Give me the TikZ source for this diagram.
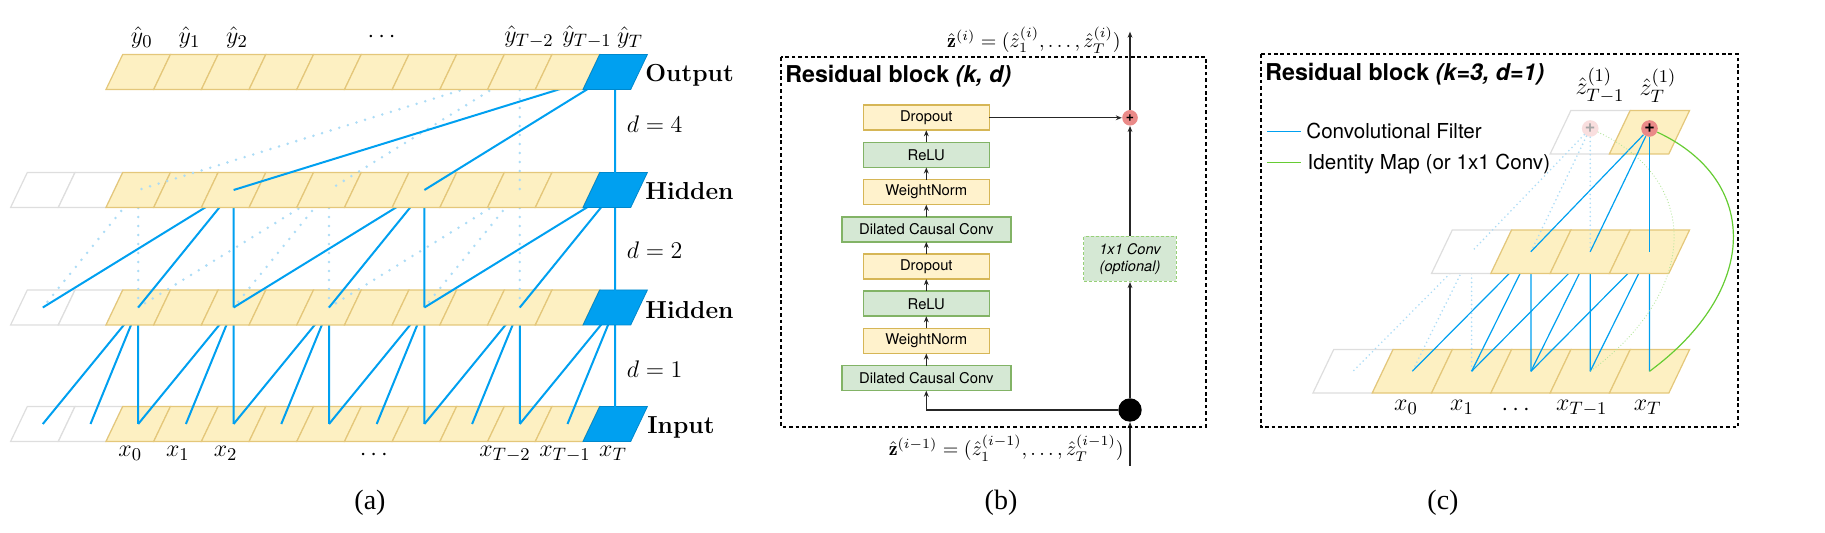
\documentclass[tikz,border=0pt]{standalone}
\usepackage{fontspec}
\setsansfont{TeX Gyre Heros}
\newfontfamily\capfont{Liberation Serif}
\usetikzlibrary{
  positioning,
  calc,
  arrows.meta}
\tikzset{
  cell/.pic = {
    \path [pic actions] (-32.2, 17.5) -- (15.5, 17.5) -- (32.2, -17.5)
      -- (-15.5, -17.5) -- cycle;
  }
}
\definecolor{cellcolor}{RGB}{253,240,194}
\definecolor{celledge}{RGB}{228,199,122}
\definecolor{padedge}{RGB}{222,222,222}
\definecolor{tcnblue}{RGB}{0,160,240}
\definecolor{dotblue}{RGB}{172,220,246}
\definecolor{normcolor}{RGB}{255,242,204}
\definecolor{normedge}{RGB}{214,182,86}
\definecolor{convcolor}{RGB}{213,232,212}
\definecolor{convedge}{RGB}{130,179,102}
\definecolor{dashgreen}{RGB}{151,208,119}
\definecolor{addcolor}{RGB}{234,138,136}
\definecolor{identgreen}{RGB}{102,204,51}
\tikzset{
  %% seqcell : a time step that holds data
  seqcell/.style={
    fill=cellcolor,
    draw=celledge,
    line width=0.6pt
  },
  %% padcell : zero padding in front of the sequence
  padcell/.style={
    fill=white,
    draw=padedge,
    line width=0.6pt
  },
  %% lastcell : the last time step T
  lastcell/.style={
    fill=tcnblue,
    draw=tcnblue!85!black,
    line width=0.4pt
  },
  %% conv : a filter tap that feeds the output at T
  conv/.style={tcnblue, line width=1pt},
  convthin/.style={tcnblue, line width=0.6pt},
  %% convhint : a filter tap of an earlier output
  convhint/.style={dotblue, line width=1.4pt, line cap=round,
    dash pattern=on 0pt off 4.5pt},
  blockhint/.style={dotblue, line width=0.9pt, line cap=round,
    dash pattern=on 0pt off 2.2pt},
  %% identity : the skip connection
  identity/.style={identgreen, line width=0.6pt},
  identityhint/.style={identgreen!50, line width=0.6pt, line cap=round,
    dash pattern=on 0pt off 1.5pt},
  %% labels
  seqlabel/.style={inner sep=0pt, font=\fontsize{12.3}{14}\selectfont},
  rowlabel/.style={anchor=base west, inner sep=0pt,
    font=\fontsize{12.3}{14}\selectfont\bfseries},
  dlabel/.style={anchor=base west, inner sep=0pt,
    font=\fontsize{12.3}{14}\selectfont},
  zlabel/.style={inner sep=0pt, font=\fontsize{10}{12}\selectfont},
  blocktitle/.style={anchor=base west, inner sep=0pt,
    font=\fontsize{11.6}{13}\sffamily\bfseries},
  keytext/.style={anchor=base west, inner sep=0pt,
    font=\fontsize{10.3}{12}\sffamily},
  subcap/.style={font=\fontsize{14}{16}\capfont},
  %% normbox : a normalisation or dropout layer
  normbox/.style={
    rectangle,
    fill=normcolor,
    draw=normedge,
    line width=0.8pt,
    minimum width=63pt,
    minimum height=12.5pt,
    inner sep=0pt,
    outer sep=0pt,
    font=\fontsize{7.4}{9}\sffamily
  },
  %% convbox : a convolution or activation layer
  convbox/.style={
    rectangle,
    fill=convcolor,
    draw=convedge,
    line width=0.8pt,
    minimum width=63pt,
    minimum height=12.5pt,
    inner sep=0pt,
    outer sep=0pt,
    font=\fontsize{7.4}{9}\sffamily
  },
  widebox/.style={minimum width=84.5pt},
  %% skipbox : the optional 1x1 convolution
  skipbox/.style={
    rectangle,
    fill=convcolor,
    draw=dashgreen,
    line width=0.6pt,
    dash pattern=on 1.5pt off 1pt,
    minimum width=46.2pt,
    minimum height=22.5pt,
    align=center,
    font=\fontsize{7.3}{8.8}\sffamily\itshape
  },
  %% addnode : elementwise addition
  addnode/.style={
    circle,
    fill=addcolor,
    minimum size=7.8pt,
    inner sep=0pt,
    font=\fontsize{7}{7}\sffamily\bfseries
  },
  fadenode/.style={addnode, fill=addcolor!28, text=black!35},
  %% splitnode : the input is split in two
  splitnode/.style={
    circle,
    fill=black,
    minimum size=11.7pt,
    inner sep=0pt
  },
  flow/.style={-{Stealth[length=3pt, width=2.4pt]}, line width=0.55pt, black!85},
  %% frame : frame around a block
  frame/.style={black, line width=1pt, dash pattern=on 1.8pt off 1.4pt}
}

\begin{document}
\begin{tikzpicture}
  [x=0.5pt,
  y=-0.5pt,
  node distance=6.1pt]

  \useasboundingbox (0, 0) rectangle (1825, 533);

  %%% (a) Dilated causal convolution
  %% Cell centres
  \foreach \k in {-2,...,10} {
    \coordinate (out\k) at ({138.2+47.7*\k}, 72);
    \coordinate (hida\k) at ({138.2+47.7*\k}, 190);
    \coordinate (hidb\k) at ({138.2+47.7*\k}, 307.5);
    \coordinate (in\k) at ({138.2+47.7*\k}, 424);
  }

  %% Input
  \foreach \k in {-2,-1}
    \pic [padcell] at (in\k) {cell};
  \foreach \k in {0,...,9}
    \pic [seqcell] at (in\k) {cell};
  \pic [lastcell] at (in10) {cell};

  %% d = 1
  \foreach \j [evaluate=\j as \a using int(\j-1),
    evaluate=\j as \b using int(\j-2)] in {0,2,...,10}
    \draw [conv] (in\b) -- (hidb\j) -- (in\a) (hidb\j) -- (in\j);

  %% Hidden (lower)
  \foreach \k in {-2,-1}
    \pic [padcell] at (hidb\k) {cell};
  \foreach \k in {0,...,9}
    \pic [seqcell] at (hidb\k) {cell};
  \pic [lastcell] at (hidb10) {cell};

  %% d = 2
  \draw [convhint] (hida0) -- (hidb-2) (hida0) -- (hidb0);
  \foreach \j [evaluate=\j as \a using int(\j-2),
    evaluate=\j as \b using int(\j-4)] in {4,8}
    \draw [convhint] (hida\j) -- (hidb\b) (hida\j) -- (hidb\a)
      (hida\j) -- (hidb\j);
  \foreach \j [evaluate=\j as \a using int(\j-2),
    evaluate=\j as \b using int(\j-4)] in {2,6,10}
    \draw [conv] (hidb\b) -- (hida\j) -- (hidb\a) (hida\j) -- (hidb\j);

  %% Hidden (upper)
  \foreach \k in {-2,-1}
    \pic [padcell] at (hida\k) {cell};
  \foreach \k in {0,...,9}
    \pic [seqcell] at (hida\k) {cell};
  \pic [lastcell] at (hida10) {cell};

  %% d = 4
  \draw [convhint] (out8) -- (hida0) (out8) -- (hida4) (out8) -- (hida8);
  \draw [conv] (hida2) -- (out10) -- (hida6) (out10) -- (hida10);

  %% Output
  \foreach \k in {0,...,9}
    \pic [seqcell] at (out\k) {cell};
  \pic [lastcell] at (out10) {cell};

  %% Labels
  \foreach \k in {0,1,2}
    \node (yhat\k) [seqlabel, anchor=south] at ($(out\k)+(3.5,-23.5)$) {$\hat{y}_{\k}$};
  \node (yhatdots) [seqlabel] at (381.7, 37) {$\cdots$};
  \node (yhatc) [seqlabel, anchor=south] at (529, 48.5) {$\hat{y}_{T-2}$};
  \node (yhatb) [seqlabel, anchor=south] at (587, 48.5) {$\hat{y}_{T-1}$};
  \node (yhata) [seqlabel, anchor=south] at (630, 48.5) {$\hat{y}_{T}$};

  \foreach \k in {0,1,2}
    \node (x\k) [seqlabel, anchor=north] at ($(in\k)+(-8,22)$) {$x_{\k}$};
  \node (xdots) [seqlabel] at (373.8, 455) {$\cdots$};
  \node (xc) [seqlabel, anchor=north] at (505, 446) {$x_{T-2}$};
  \node (xb) [seqlabel, anchor=north] at (565, 446) {$x_{T-1}$};
  \node (xa) [seqlabel, anchor=north] at (613, 446) {$x_{T}$};

  \node (outputlabel) [rowlabel] at (645, 81.7) {Output};
  \node (hiddenalabel) [rowlabel] at (645, 200) {Hidden};
  \node (hiddenblabel) [rowlabel] at (645, 318.3) {Hidden};
  \node (inputlabel) [rowlabel] at (647, 433.3) {Input};

  \node (dfour) [dlabel] at (626.5, 132.3) {$d = 4$};
  \node (dtwo) [dlabel] at (626.5, 258.3) {$d = 2$};
  \node (done) [dlabel] at (626.5, 377.3) {$d = 1$};

  \node (capa) [subcap] at (370, 503) {(a)};

  %%% (b) Residual block
  \node (dcca) [convbox, widebox] at (926.3, 378.2) {Dilated Causal Conv};
  \node (wna) [normbox, above=of dcca] {WeightNorm};
  \node (relua) [convbox, above=of wna] {ReLU};
  \node (dropa) [normbox, above=of relua] {Dropout};
  \node (dccb) [convbox, widebox, above=of dropa] {Dilated Causal Conv};
  \node (wnb) [normbox, above=of dccb] {WeightNorm};
  \node (relub) [convbox, above=of wnb] {ReLU};
  \node (dropb) [normbox, above=of relub] {Dropout};

  \node (skip) [skipbox] at (1130, 259) {1x1 Conv\\(optional)};
  \node (add) [addnode] at (dropb -| skip) {+};
  \node (split) [splitnode] at (1130, 410) {};
  \coordinate (zout) at (1130, 31.7);
  \coordinate (zin) at (1130, 466);

  %% Connections
  \foreach \a/\b in {dcca/wna, wna/relua, relua/dropa, dropa/dccb,
    dccb/wnb, wnb/relub, relub/dropb}
    \draw [flow] (\a) -- (\b);
  \draw [flow] (zin) -- (split);
  \draw [flow] (split) -- (skip);
  \draw [flow] (skip) -- (add);
  \draw [flow] (add) -- (zout);
  \draw [flow] (dropb) -- (add);
  \draw [flow] (split) -| (dcca);

  \node (zoutlabel) [zlabel, anchor=east] at (1121, 40)
    {$\hat{\mathbf{z}}^{(i)} = (\hat{z}^{(i)}_1, \ldots, \hat{z}^{(i)}_T)$};
  \node (zinlabel) [zlabel, anchor=east] at (1124, 448.3)
    {$\hat{\mathbf{z}}^{(i-1)} = (\hat{z}^{(i-1)}_1, \ldots, \hat{z}^{(i-1)}_T)$};

  %% Frame around block
  \draw [frame] (781, 57.3) rectangle (1206, 426.7);
  \node (titleb) [blocktitle] at (785, 82.7) {Residual block \textit{(k, d)}};

  \node (capb) [subcap] at (1001, 503) {(b)};

  %%% (c) Residual block, k=3, d=1
  \foreach \k in {0,...,5} {
    \coordinate (xc\k) at ({1353+59.3*\k}, 371.3);
    \coordinate (zm\k) at ({1353+59.3*\k}, 251.7);
    \coordinate (zt\k) at ({1353+59.3*\k}, 132.2);
  }

  %% Input
  \pic [padcell, scale=1.245] at (xc0) {cell};
  \foreach \k in {1,...,5}
    \pic [seqcell, scale=1.245] at (xc\k) {cell};

  %% Lower filter taps
  \draw [blockhint] (zm2) -- (xc0) (zm2) -- (xc1) (zm2) -- (xc2);
  \foreach \j [evaluate=\j as \a using int(\j-1),
    evaluate=\j as \b using int(\j-2)] in {3,4,5}
    \draw [convthin] (xc\b) -- (zm\j) -- (xc\a) (zm\j) -- (xc\j);

  %% Middle
  \pic [padcell, scale=1.245] at (zm2) {cell};
  \foreach \k in {3,4,5}
    \pic [seqcell, scale=1.245] at (zm\k) {cell};

  %% Top
  \pic [padcell, scale=1.245] at (zt4) {cell};
  \pic [seqcell, scale=1.245] at (zt5) {cell};

  \node (addt) [addnode, minimum size=8.3pt, font=\fontsize{9}{9}\sffamily\bfseries]
    at ($(zt5)+(0,-3.7)$) {+};
  \node (addp) [fadenode, minimum size=8.3pt, font=\fontsize{9}{9}\sffamily\bfseries]
    at ($(zt4)+(0,-3.7)$) {+};

  %% Upper filter taps
  \draw [blockhint] (addp) -- (zm2) (addp) -- (zm3) (addp) -- (zm4);
  \draw [convthin] (addt) -- (zm3);
  \draw [convthin] (addt) -- (zm4);
  \draw [convthin] (addt) -- (zm5);

  %% Identity map
  \draw [identityhint] (addp) .. controls +(111, 52) and +(110, -81) .. (xc4);
  \draw [identity] (addt) .. controls +(111, 52) and +(110, -81) .. (xc5);

  %% Labels
  \node (zhatb) [seqlabel] at (1600, 86) {$\hat{z}^{(1)}_{T-1}$};
  \node (zhata) [seqlabel] at (1658, 86) {$\hat{z}^{(1)}_{T}$};
  \node (xczero) [seqlabel, anchor=north] at (1406, 400) {$x_0$};
  \node (xcone) [seqlabel, anchor=north] at (1462, 400) {$x_1$};
  \node (xcdots) [seqlabel] at (1515.7, 410) {$\cdots$};
  \node (xcb) [seqlabel, anchor=north] at (1581.7, 400) {$x_{T-1}$};
  \node (xca) [seqlabel, anchor=north] at (1647.7, 400) {$x_{T}$};

  %% Key
  \coordinate (convkeyl) at (1267, 131.7);
  \coordinate (convkeyr) at (1300.7, 131.7);
  \draw [convthin] (convkeyl) -- (convkeyr);
  \node (convkey) [keytext] at (1306, 138.3) {Convolutional Filter};
  \coordinate (identkeyl) at (1267, 162.5);
  \coordinate (identkeyr) at (1300.7, 162.5);
  \draw [identity] (identkeyl) -- (identkeyr);
  \node (identkey) [keytext] at (1307.3, 169.3) {Identity Map (or 1x1 Conv)};

  %% Frame around block
  \draw [frame] (1260.7, 54.3) rectangle (1737.7, 427.3);
  \node (titlec) [blocktitle] at (1265, 81) {Residual block \textit{(k=3, d=1)}};

  \node (capc) [subcap] at (1443, 503) {(c)};

\end{tikzpicture}
\end{document}
